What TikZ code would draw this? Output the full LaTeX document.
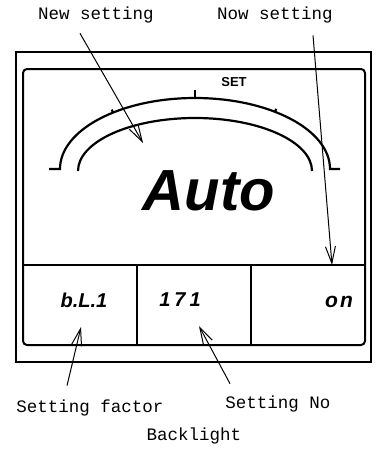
\documentclass[tikz,border=0pt]{standalone}
\usepackage{fontspec}
\usetikzlibrary{arrows.meta}
\newfontfamily\lblfont{Liberation Mono}
\newfontfamily\segfont{Liberation Sans}
\tikzset{
  frame/.style={line width=2pt},
  arcline/.style={line width=2.2pt},
  ptr/.style={line width=1pt, -{Straight Barb[length=17pt,width=10pt]}},
  lbl/.style={font=\lblfont\fontsize{17.5}{17.5}\selectfont, inner sep=0pt},
  seg/.style={font=\segfont\bfseries\itshape, inner sep=0pt}
}
\begin{document}
\begin{tikzpicture}[x=1pt,y=-1pt]
    \useasboundingbox (0,0) rectangle (379,453);
    % Cadre
    \draw[frame] (16,52) rectangle (371,362);
    \draw[frame, rounded corners=4pt] (23,69) rectangle (365,345);
    \draw[frame] (23,265) -- (365,265);
    \draw[frame] (137,265) -- (137,345);
    \draw[frame] (251,265) -- (251,345);
    % Arcs
    \draw[arcline] (49,169) -- (60,169)
        arc[start angle=180, end angle=360, x radius=135, y radius=71] -- (340,169);
    \draw[arcline] (78,171) arc[start angle=180, end angle=360, x radius=117, y radius=53];
    \draw[arcline] (195,98) -- (195,90);
    \draw[arcline] (113,112.6) -- ++(-1.2,-3);
    \draw[arcline] (275,111.8) -- ++(1.2,-3);
    % Afficheur
    \node[font=\segfont\bfseries\fontsize{13}{13}\selectfont, inner sep=0pt] (set) at (234,82) {SET};
    \node[seg, font=\segfont\bfseries\itshape\fontsize{58}{58}\selectfont] (auto) at (209,191) {Auto};
    \node[seg, font=\segfont\bfseries\itshape\fontsize{20}{20}\selectfont] (factor) at (84,300) {b.L.1};
    \node[seg, font=\segfont\bfseries\itshape\addfontfeature{LetterSpace=20}\fontsize{20}{20}\selectfont] (number) at (180,300) {171};
    \node[seg, font=\segfont\bfseries\itshape\addfontfeature{LetterSpace=10}\fontsize{21}{21}\selectfont] (value) at (339,302) {on};
    % Legendes
    \node[lbl] (newlbl) at (96,15) {New setting};
    \node[lbl] (nowlbl) at (275,15) {Now setting};
    \node[lbl] (factlbl) at (90,408) {Setting factor};
    \node[lbl] (nolbl) at (278,404) {Setting No};
    \node[lbl] (bllbl) at (194,436) {Backlight};
    % Fleches
    \coordinate (newtip) at (143,143);
    \coordinate (nowtip) at (332,265);
    \coordinate (facttip) at (81,327);
    \coordinate (notip) at (199,326);
    \draw[ptr] ([xshift=-16pt,yshift=-10pt]newlbl.south) -- (newtip);
    \draw[ptr] ([xshift=38pt,yshift=-12pt]nowlbl.south) -- (nowtip);
    \draw[ptr] ([xshift=-23pt,yshift=14pt]factlbl.north) -- (facttip);
    \draw[ptr] ([xshift=-48pt,yshift=12pt]nolbl.north) -- (notip);
\end{tikzpicture}
\end{document}
